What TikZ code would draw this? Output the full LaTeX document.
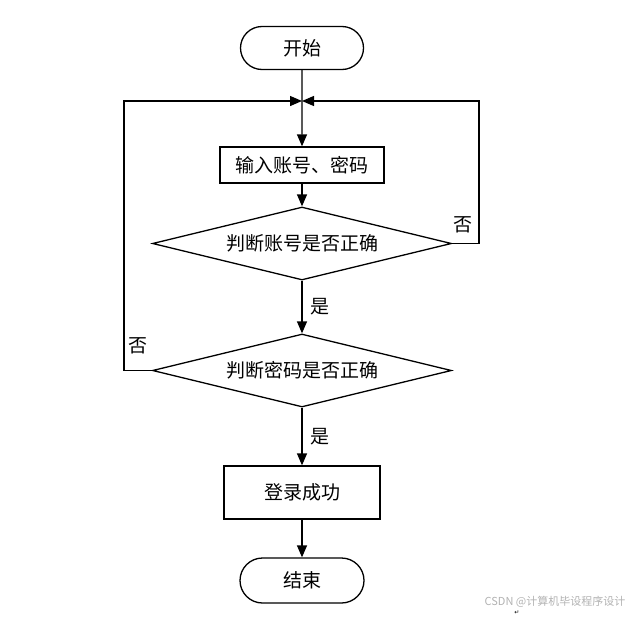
\documentclass[tikz,border=0pt]{standalone}
\usepackage{fontspec}
\newfontfamily\cjk{Noto Sans CJK SC}
\newfontfamily\symfont{DejaVu Sans}
\usetikzlibrary{arrows.meta,shapes.geometric,shapes.misc}

\begin{document}
\begin{tikzpicture}[x=1pt,y=-1pt,line width=1.3pt,
    every node/.style={font=\cjk\fontsize{19}{22}\selectfont},
    term/.style={draw,rounded rectangle,minimum width=123pt,minimum height=43pt,inner sep=0pt},
    proc/.style={draw,rectangle,minimum width=164pt,minimum height=36pt,inner sep=0pt},
    decide/.style={draw,diamond,aspect=4.1,minimum width=299pt,minimum height=73pt,inner sep=0pt},
    arr/.style={-{Triangle[length=12pt,width=10pt]}},
    lbl/.style={inner sep=0pt}]
  \useasboundingbox (0,0) rectangle (631,616);
  % boxes down the middle
  \node[term] (start) at (302,48) {开始};
  \coordinate (join) at (302,101);
  \node[proc] (input) at (302,165) {输入账号、密码};
  \node[decide] (acct) at (302,243.5) {判断账号是否正确};
  \node[decide] (pwd) at (302,370.5) {判断密码是否正确};
  \node[proc,minimum width=156pt,minimum height=53pt] (ok) at (302,492.5) {登录成功};
  \node[term,minimum width=124pt,minimum height=45pt] (stop) at (302,580.5) {结束};
  % main flow
  \draw[arr] (start) -- (input);
  \draw[arr] (input) -- (acct);
  \draw[arr] (acct) -- (pwd) node[lbl,midway,right=8pt] {是};
  \draw[arr] (pwd) -- (ok) node[lbl,midway,right=8pt] {是};
  \draw[arr] (ok) -- (stop);
  % loops back
  \coordinate (rdown) at (479,243.5);
  \coordinate (rup) at (479,101);
  \draw[arr] (acct.east) -- (rdown) -- (rup) -- (join);
  \coordinate (ldown) at (124,370.5);
  \coordinate (lup) at (124,101);
  \draw[arr] (pwd.west) -- (ldown) -- (lup) -- (join);
  \node[lbl] (no1) at (463,225) {否};
  \node[lbl] (no2) at (138,346) {否};
  % watermark
  \node[lbl,font=\fontsize{11}{12}\selectfont\cjk,text=black!30,anchor=east] (mark) at (626,602) {CSDN @计算机毕设程序设计};
  \node[lbl,font=\fontsize{6}{7}\selectfont\symfont] (ret) at (517,613) {↵};
\end{tikzpicture}
\end{document}
